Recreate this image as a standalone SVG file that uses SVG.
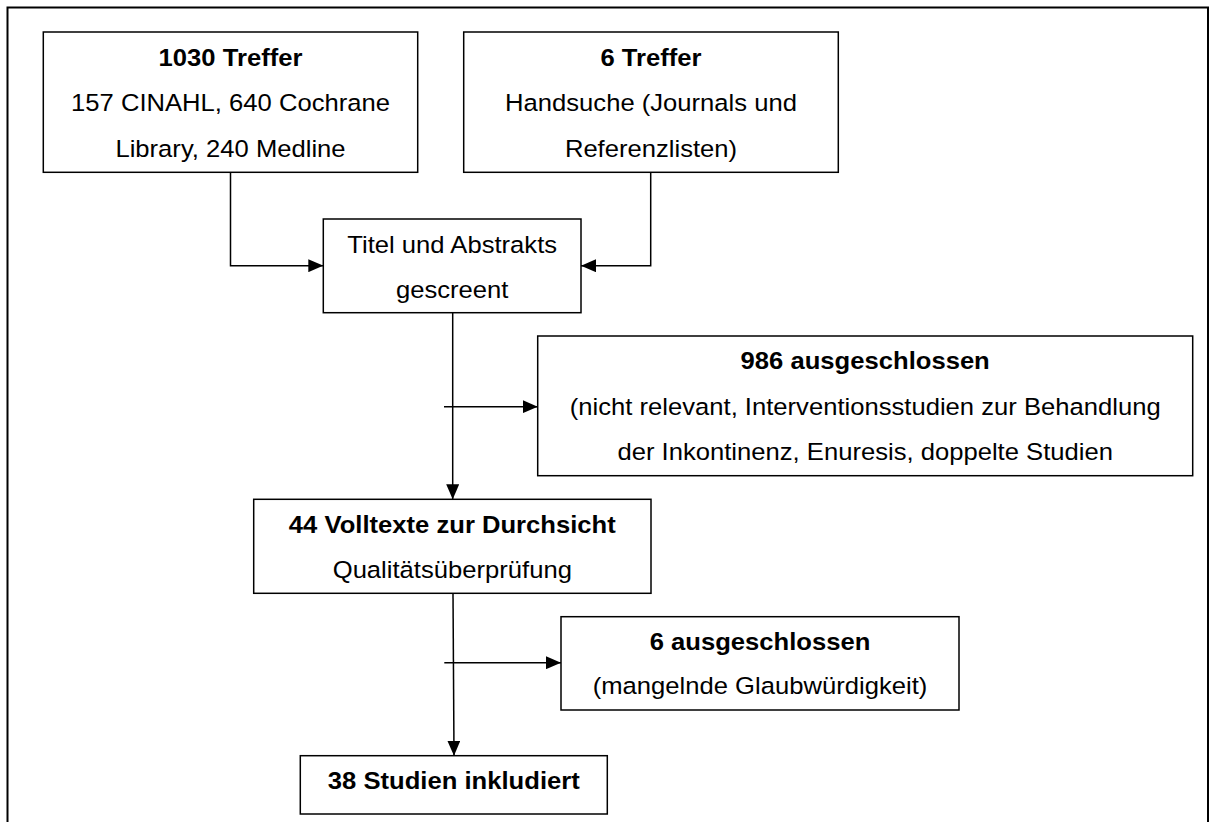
<svg xmlns="http://www.w3.org/2000/svg" width="1213" height="822" viewBox="0 0 1213 822">
<style>
.box{fill:#fff;stroke:#000;stroke-width:1.5}
.frame{fill:#fff;stroke:#000;stroke-width:2}
.t{font-family:"Liberation Sans",Arial,sans-serif;font-size:23.5px;fill:#000;text-anchor:middle}
.b{font-weight:bold}
.c{fill:none;stroke:#000;stroke-width:1.5}
</style>
<defs>
<marker id="ah" viewBox="0 0 15 13" refX="15" refY="6.5" markerWidth="15" markerHeight="13" markerUnits="userSpaceOnUse" orient="auto">
<path d="M0,0 L15,6.5 L0,13 Z" fill="#000"/>
</marker>
</defs>
<rect class="frame" x="7.5" y="7.5" width="1200.5" height="830"/>
<g id="connectors">
<path class="c" d="M230.5,172.3 V265.7 H323.3" marker-end="url(#ah)"/>
<path class="c" d="M650.7,172.3 V265.7 H581" marker-end="url(#ah)"/>
<path class="c" d="M452.7,312.7 V499.3" marker-end="url(#ah)"/>
<path class="c" d="M444,406.7 H537.7" marker-end="url(#ah)"/>
<path class="c" d="M453,593.3 L454,755.7" marker-end="url(#ah)"/>
<path class="c" d="M444.3,662.7 H561" marker-end="url(#ah)"/>
</g>
<g id="n1030">
<rect class="box" x="43.3" y="32" width="374.4" height="140.3"/>
<text class="t b" transform="matrix(1.09 0 0 1 230.5 65.7)">1030 Treffer</text>
<text class="t" transform="matrix(1.09 0 0 1 230.5 111)">157 CINAHL, 640 Cochrane</text>
<text class="t" transform="matrix(1.09 0 0 1 230.5 156.7)">Library, 240 Medline</text>
</g>
<g id="n6treffer">
<rect class="box" x="463.7" y="32" width="374.6" height="140.3"/>
<text class="t b" transform="matrix(1.09 0 0 1 651 65.7)">6 Treffer</text>
<text class="t" transform="matrix(1.09 0 0 1 651 111)">Handsuche (Journals und</text>
<text class="t" transform="matrix(1.09 0 0 1 651 156.7)">Referenzlisten)</text>
</g>
<g id="nscreen">
<rect class="box" x="323.3" y="219" width="257.7" height="93.7"/>
<text class="t" transform="matrix(1.09 0 0 1 452.2 253.3)">Titel und Abstrakts</text>
<text class="t" transform="matrix(1.09 0 0 1 452.2 297.7)">gescreent</text>
</g>
<g id="n986">
<rect class="box" x="537.7" y="336" width="655" height="139.7"/>
<text class="t b" transform="matrix(1.09 0 0 1 865.2 369.3)">986 ausgeschlossen</text>
<text class="t" transform="matrix(1.09 0 0 1 865.2 415)">(nicht relevant, Interventionsstudien zur Behandlung</text>
<text class="t" transform="matrix(1.09 0 0 1 865.2 460)">der Inkontinenz, Enuresis, doppelte Studien</text>
</g>
<g id="n44">
<rect class="box" x="253.7" y="499.3" width="397.3" height="94"/>
<text class="t b" transform="matrix(1.09 0 0 1 452.3 532.7)">44 Volltexte zur Durchsicht</text>
<text class="t" transform="matrix(1.09 0 0 1 452.3 577.7)">Qualitätsüberprüfung</text>
</g>
<g id="n6aus">
<rect class="box" x="561" y="616.7" width="398" height="93.3"/>
<text class="t b" transform="matrix(1.09 0 0 1 760 650)">6 ausgeschlossen</text>
<text class="t" transform="matrix(1.09 0 0 1 760 693.5)">(mangelnde Glaubwürdigkeit)</text>
</g>
<g id="n38">
<rect class="box" x="300.3" y="755.7" width="307" height="58.3"/>
<text class="t b" transform="matrix(1.09 0 0 1 453.8 789)">38 Studien inkludiert</text>
</g>
</svg>
